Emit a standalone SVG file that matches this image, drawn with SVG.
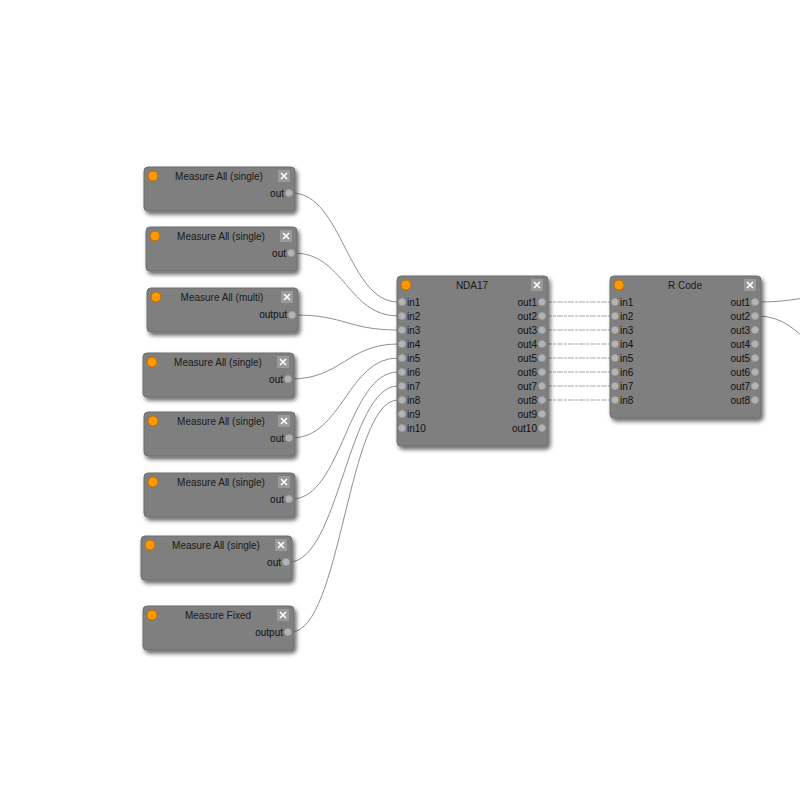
<svg xmlns="http://www.w3.org/2000/svg" width="800" height="800" viewBox="0 0 800 800">
<defs>
<filter id="sh" x="-10%" y="-10%" width="130%" height="140%">
<feGaussianBlur in="SourceAlpha" stdDeviation="2"/>
<feOffset dx="2" dy="3" result="b"/>
<feComponentTransfer><feFuncA type="linear" slope="0.6"/></feComponentTransfer>
<feMerge><feMergeNode/><feMergeNode in="SourceGraphic"/></feMerge>
</filter>
</defs>
<style>
.body{fill:#7f7f7f;stroke:#6e6e6e;stroke-width:1;filter:url(#sh)}
.title{font-family:"Liberation Sans",Arial,sans-serif;font-size:10px;fill:#1a1a1a;text-anchor:middle}
.lbl{font-family:"Liberation Sans",Arial,sans-serif;font-size:10px;fill:#111}
.r{text-anchor:end}
.led{fill:#f90;stroke:#c56a00;stroke-width:1}
.cls{fill:#9a9a9a}
.x{stroke:#fff;stroke-width:1.6}
.port{fill:#b4b4b4;stroke:#a0a0a0;stroke-width:0.8}
.wire{fill:none;stroke:#909090;stroke-width:1}
.link{fill:none;stroke:#aaa;stroke-width:1.2;stroke-dasharray:6 1 3 1}
</style>
<rect width="800" height="800" fill="#fff"/>
<g id="connectors">
<path class="wire" d="M292,193 C342,193 348,302 398,302"/>
<path class="wire" d="M294,253 C344,253 348,316 398,316"/>
<path class="wire" d="M295,315 C345,315 348,330 398,330"/>
<path class="wire" d="M291,379 C341,379 348,344 398,344"/>
<path class="wire" d="M292,438 C342,438 348,358 398,358"/>
<path class="wire" d="M292,499 C342,499 348,372 398,372"/>
<path class="wire" d="M289,562 C339,562 348,386 398,386"/>
<path class="wire" d="M291,632 C341,632 348,400 398,400"/>
<path class="link" d="M546,302 H611 M546,316 H611 M546,330 H611 M546,344 H611 M546,358 H611 M546,372 H611 M546,386 H611 M546,400 H611"/>
<path class="wire" d="M758,302 C808,302 820,290 870,290"/>
<path class="wire" d="M758,316 C808,316 820,380 870,380"/>
</g>
<g id="n1" transform="translate(144,167)">
<rect class="body" width="151" height="44" rx="4"/>
<circle class="led" cx="9" cy="9" r="5"/>
<text class="title" x="75" y="13">Measure All (single)</text>
<rect class="cls" x="134" y="3" width="12" height="12"/>
<path class="x" d="M137,6 l6,6 M143,6 l-6,6"/>
<text class="lbl r" x="140" y="30">out</text>
<circle class="port" cx="145" cy="26" r="3.5"/>
</g>
<g id="n2" transform="translate(146,227)">
<rect class="body" width="151" height="44" rx="4"/>
<circle class="led" cx="9" cy="9" r="5"/>
<text class="title" x="75" y="13">Measure All (single)</text>
<rect class="cls" x="134" y="3" width="12" height="12"/>
<path class="x" d="M137,6 l6,6 M143,6 l-6,6"/>
<text class="lbl r" x="140" y="30">out</text>
<circle class="port" cx="145" cy="26" r="3.5"/>
</g>
<g id="n3" transform="translate(147,288)">
<rect class="body" width="151" height="44" rx="4"/>
<circle class="led" cx="9" cy="9" r="5"/>
<text class="title" x="75" y="13">Measure All (multi)</text>
<rect class="cls" x="134" y="3" width="12" height="12"/>
<path class="x" d="M137,6 l6,6 M143,6 l-6,6"/>
<text class="lbl r" x="140" y="30">output</text>
<circle class="port" cx="145" cy="27" r="3.5"/>
</g>
<g id="n4" transform="translate(143,353)">
<rect class="body" width="151" height="44" rx="4"/>
<circle class="led" cx="9" cy="9" r="5"/>
<text class="title" x="75" y="13">Measure All (single)</text>
<rect class="cls" x="134" y="3" width="12" height="12"/>
<path class="x" d="M137,6 l6,6 M143,6 l-6,6"/>
<text class="lbl r" x="140" y="30">out</text>
<circle class="port" cx="145" cy="26" r="3.5"/>
</g>
<g id="n5" transform="translate(144,412)">
<rect class="body" width="151" height="44" rx="4"/>
<circle class="led" cx="9" cy="9" r="5"/>
<text class="title" x="77" y="13">Measure All (single)</text>
<rect class="cls" x="134" y="3" width="12" height="12"/>
<path class="x" d="M137,6 l6,6 M143,6 l-6,6"/>
<text class="lbl r" x="140" y="30">out</text>
<circle class="port" cx="145" cy="26" r="3.5"/>
</g>
<g id="n6" transform="translate(144,473)">
<rect class="body" width="151" height="44" rx="4"/>
<circle class="led" cx="9" cy="9" r="5"/>
<text class="title" x="77" y="13">Measure All (single)</text>
<rect class="cls" x="134" y="3" width="12" height="12"/>
<path class="x" d="M137,6 l6,6 M143,6 l-6,6"/>
<text class="lbl r" x="140" y="30">out</text>
<circle class="port" cx="145" cy="26" r="3.5"/>
</g>
<g id="n7" transform="translate(141,536)">
<rect class="body" width="151" height="44" rx="4"/>
<circle class="led" cx="9" cy="9" r="5"/>
<text class="title" x="75" y="13">Measure All (single)</text>
<rect class="cls" x="134" y="3" width="12" height="12"/>
<path class="x" d="M137,6 l6,6 M143,6 l-6,6"/>
<text class="lbl r" x="140" y="30">out</text>
<circle class="port" cx="145" cy="26" r="3.5"/>
</g>
<g id="n8" transform="translate(143,606)">
<rect class="body" width="151" height="44" rx="4"/>
<circle class="led" cx="9" cy="9" r="5"/>
<text class="title" x="75" y="13">Measure Fixed</text>
<rect class="cls" x="134" y="3" width="12" height="12"/>
<path class="x" d="M137,6 l6,6 M143,6 l-6,6"/>
<text class="lbl r" x="140" y="30">output</text>
<circle class="port" cx="145" cy="26" r="3.5"/>
</g>
<g id="nda17" transform="translate(397,276)">
<rect class="body" width="151" height="170" rx="4"/>
<circle class="led" cx="9" cy="9" r="5"/>
<text class="title" x="75" y="13">NDA17</text>
<rect class="cls" x="134" y="3" width="12" height="12"/>
<path class="x" d="M137,6 l6,6 M143,6 l-6,6"/>
<g class="port">
<circle cx="5" cy="26" r="3.5"/><circle cx="5" cy="40" r="3.5"/><circle cx="5" cy="54" r="3.5"/><circle cx="5" cy="68" r="3.5"/><circle cx="5" cy="82" r="3.5"/><circle cx="5" cy="96" r="3.5"/><circle cx="5" cy="110" r="3.5"/><circle cx="5" cy="124" r="3.5"/><circle cx="5" cy="138" r="3.5"/><circle cx="5" cy="152" r="3.5"/>
<circle cx="145" cy="26" r="3.5"/><circle cx="145" cy="40" r="3.5"/><circle cx="145" cy="54" r="3.5"/><circle cx="145" cy="68" r="3.5"/><circle cx="145" cy="82" r="3.5"/><circle cx="145" cy="96" r="3.5"/><circle cx="145" cy="110" r="3.5"/><circle cx="145" cy="124" r="3.5"/><circle cx="145" cy="138" r="3.5"/><circle cx="145" cy="152" r="3.5"/>
</g>
<g class="lbl">
<text x="10" y="30">in1</text><text x="10" y="44">in2</text><text x="10" y="58">in3</text><text x="10" y="72">in4</text><text x="10" y="86">in5</text><text x="10" y="100">in6</text><text x="10" y="114">in7</text><text x="10" y="128">in8</text><text x="10" y="142">in9</text><text x="10" y="156">in10</text>
</g>
<g class="lbl r">
<text x="140" y="30">out1</text><text x="140" y="44">out2</text><text x="140" y="58">out3</text><text x="140" y="72">out4</text><text x="140" y="86">out5</text><text x="140" y="100">out6</text><text x="140" y="114">out7</text><text x="140" y="128">out8</text><text x="140" y="142">out9</text><text x="140" y="156">out10</text>
</g>
</g>
<g id="rcode" transform="translate(610,276)">
<rect class="body" width="151" height="142" rx="4"/>
<circle class="led" cx="9" cy="9" r="5"/>
<text class="title" x="75" y="13">R Code</text>
<rect class="cls" x="134" y="3" width="12" height="12"/>
<path class="x" d="M137,6 l6,6 M143,6 l-6,6"/>
<g class="port">
<circle cx="5" cy="26" r="3.5"/><circle cx="5" cy="40" r="3.5"/><circle cx="5" cy="54" r="3.5"/><circle cx="5" cy="68" r="3.5"/><circle cx="5" cy="82" r="3.5"/><circle cx="5" cy="96" r="3.5"/><circle cx="5" cy="110" r="3.5"/><circle cx="5" cy="124" r="3.5"/>
<circle cx="145" cy="26" r="3.5"/><circle cx="145" cy="40" r="3.5"/><circle cx="145" cy="54" r="3.5"/><circle cx="145" cy="68" r="3.5"/><circle cx="145" cy="82" r="3.5"/><circle cx="145" cy="96" r="3.5"/><circle cx="145" cy="110" r="3.5"/><circle cx="145" cy="124" r="3.5"/>
</g>
<g class="lbl">
<text x="10" y="30">in1</text><text x="10" y="44">in2</text><text x="10" y="58">in3</text><text x="10" y="72">in4</text><text x="10" y="86">in5</text><text x="10" y="100">in6</text><text x="10" y="114">in7</text><text x="10" y="128">in8</text>
</g>
<g class="lbl r">
<text x="140" y="30">out1</text><text x="140" y="44">out2</text><text x="140" y="58">out3</text><text x="140" y="72">out4</text><text x="140" y="86">out5</text><text x="140" y="100">out6</text><text x="140" y="114">out7</text><text x="140" y="128">out8</text>
</g>
</g>
</svg>
